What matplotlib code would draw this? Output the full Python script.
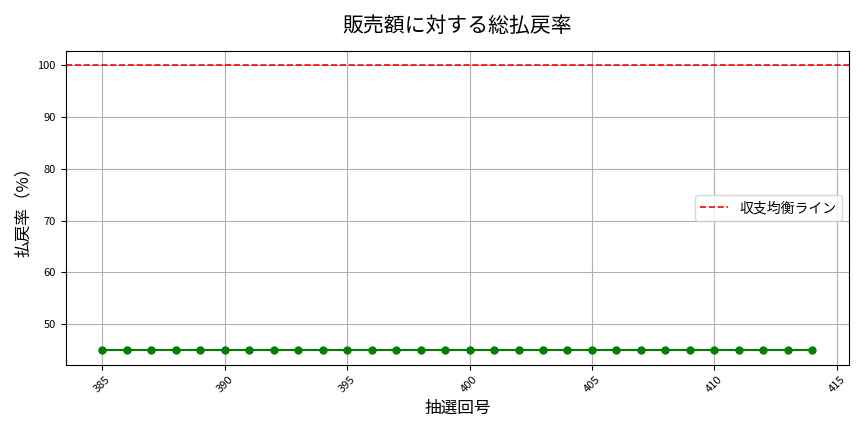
import matplotlib
matplotlib.use("Agg")
import matplotlib.pyplot as plt

plt.rcParams['font.family'] = ['Noto Sans CJK JP', 'DejaVu Sans']

draws = list(range(385, 415))
rates = [45.0] * len(draws)
breakeven = 100

fig, ax = plt.subplots(figsize=(8.64, 4.32), dpi=100)
ax.plot(draws, rates, color='green', marker='o', markersize=5, linewidth=1.5)
ax.axhline(breakeven, color='red', linestyle='--', linewidth=1.2, label='収支均衡ライン')
ax.set_title('販売額に対する総払戻率', fontsize=15, pad=14)
ax.set_xlabel('抽選回号', fontsize=12)
ax.set_ylabel('払戻率（%）', fontsize=12)
ax.set_xlim(383.5, 415.5)
ax.set_ylim(42.2, 102.7)
ax.set_xticks(range(385, 416, 5))
ax.tick_params(axis='x', labelrotation=45, labelsize=8)
ax.tick_params(axis='y', labelsize=8)
ax.grid(True, color='#b0b0b0', linewidth=0.8)
ax.legend(loc='center right', fontsize=10)
fig.tight_layout()
fig.savefig('out.png')
